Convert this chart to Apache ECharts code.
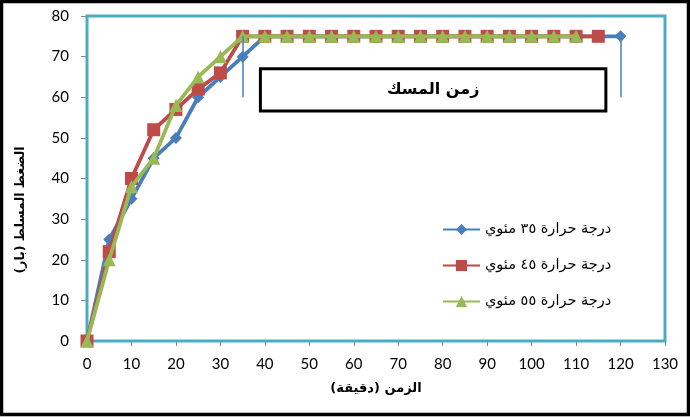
<!DOCTYPE html>
<html>
<head>
<meta charset="utf-8">
<script src="https://cdn.jsdelivr.net/npm/echarts@6/dist/echarts.min.js"></script>
<style>
  html, body { margin: 0; padding: 0; background: #fff; }
  #chart { width: 690px; height: 417px; }
</style>
</head>
<body>
<div id="chart"></div>
<script>
// Pressure (bar) over time (minutes) at three temperatures
const times35 = [0,5,10,15,20,25,30,35,40,45,50,55,60,65,70,75,80,85,90,95,100,105,110,115,120];
const pressure35 = [0,25,35,45,50,60,65,70,75,75,75,75,75,75,75,75,75,75,75,75,75,75,75,75,75];
const times45 = [0,5,10,15,20,25,30,35,40,45,50,55,60,65,70,75,80,85,90,95,100,105,110,115];
const pressure45 = [0,22,40,52,57,62,66,75,75,75,75,75,75,75,75,75,75,75,75,75,75,75,75,75];
const times55 = [0,5,10,15,20,25,30,35,40,45,50,55,60,65,70,75,80,85,90,95,100,105,110];
const pressure55 = [0,20,38,45,58,65,70,75,75,75,75,75,75,75,75,75,75,75,75,75,75,75,75];

// Holding-time bracket: start/end times and the pressure span of the markers
const holdStart = 35;
const holdEnd = 120;
const holdLow = 60;
const holdHigh = 75;
// Label box extent (time, pressure)
const boxX = [39, 116.7];
const boxY = [56.6, 67];

const seriesNames = ['درجة حرارة ٣٥ مئوي', 'درجة حرارة ٤٥ مئوي', 'درجة حرارة ٥٥ مئوي'];
const xTicks = { min: 0, max: 130, interval: 10 };
const yTicks = { min: 0, max: 80, interval: 10 };

const zip = (xs, ys) => xs.map((x, i) => [x, ys[i]]);

const latin = 'Lato, "DejaVu Sans", sans-serif';
const arabic = '"DejaVu Sans", sans-serif';

const chart = echarts.init(document.getElementById('chart'), null, { renderer: 'canvas' });
chart.setOption({
  animation: false,
  backgroundColor: '#fff',
  grid: {
    left: 87, right: 25, top: 16, bottom: 76,
    show: true, borderColor: '#4BACC6', borderWidth: 3, backgroundColor: 'transparent'
  },
  legend: {
    orient: 'vertical',
    left: 437, top: 217,
    itemWidth: 37, itemHeight: 14, itemGap: 21,
    textStyle: { fontFamily: arabic, fontSize: 14.5, color: '#000' },
    data: seriesNames
  },
  xAxis: {
    type: 'value', min: xTicks.min, max: xTicks.max, interval: xTicks.interval,
    axisLine: { show: false },
    axisTick: { show: true, length: 5, lineStyle: { color: '#888' } },
    splitLine: { show: false },
    axisLabel: { fontFamily: latin, fontSize: 15, color: '#000', margin: 16 }
  },
  yAxis: {
    type: 'value', min: yTicks.min, max: yTicks.max, interval: yTicks.interval,
    axisLine: { show: false },
    axisTick: { show: true, length: 6, lineStyle: { color: '#888' } },
    splitLine: { show: false },
    axisLabel: { fontFamily: latin, fontSize: 15, color: '#000', margin: 18 }
  },
  graphic: [
    {
      type: 'text', x: 376, y: 389,
      style: { text: 'الزمن (دقيقة)', font: 'bold 13px "DejaVu Sans", sans-serif', fill: '#000',
               align: 'center', verticalAlign: 'middle' }
    },
    {
      type: 'text', x: 21, y: 210, rotation: Math.PI / 2,
      style: { text: 'الضغط المسلط (بار)', font: 'bold 12.5px "DejaVu Sans", sans-serif', fill: '#000',
               align: 'center', verticalAlign: 'middle' }
    },
    {
      type: 'rect', silent: true, z: 100,
      shape: { x: 1.5, y: 1.5, width: 687, height: 413 },
      style: { fill: 'none', stroke: '#000', lineWidth: 3.5 }
    }
  ],
  series: [
    {
      name: seriesNames[0], type: 'line', data: zip(times35, pressure35),
      symbol: 'diamond', symbolSize: 12,
      lineStyle: { color: '#4A7EBB', width: 3.8 },
      itemStyle: { color: '#4A7EBB' },
      z: 2,
      markLine: {
        silent: true, symbol: 'none',
        lineStyle: { color: '#4A7EBB', width: 1.5, type: 'solid' },
        label: { show: false },
        data: [
          [{ coord: [holdStart, holdLow] }, { coord: [holdStart, holdHigh] }],
          [{ coord: [holdEnd, holdLow] }, { coord: [holdEnd, holdHigh] }]
        ]
      },
      markArea: {
        silent: true,
        itemStyle: { color: '#fff', borderColor: '#000', borderWidth: 3 },
        label: {
          show: true, position: 'inside',
          fontFamily: arabic, fontWeight: 'bold', fontSize: 16, color: '#000'
        },
        data: [[
          { name: 'زمن المسك', coord: [boxX[0], boxY[1]] },
          { coord: [boxX[1], boxY[0]] }
        ]]
      }
    },
    {
      name: seriesNames[1], type: 'line', data: zip(times45, pressure45),
      symbol: 'rect', symbolSize: 13,
      lineStyle: { color: '#BE4B48', width: 3.8 },
      itemStyle: { color: '#BE4B48' },
      z: 3
    },
    {
      name: seriesNames[2], type: 'line', data: zip(times55, pressure55),
      symbol: 'triangle', symbolSize: 13,
      lineStyle: { color: '#98B954', width: 3.8 },
      itemStyle: { color: '#98B954' },
      z: 4
    }
  ]
});
</script>
</body>
</html>
